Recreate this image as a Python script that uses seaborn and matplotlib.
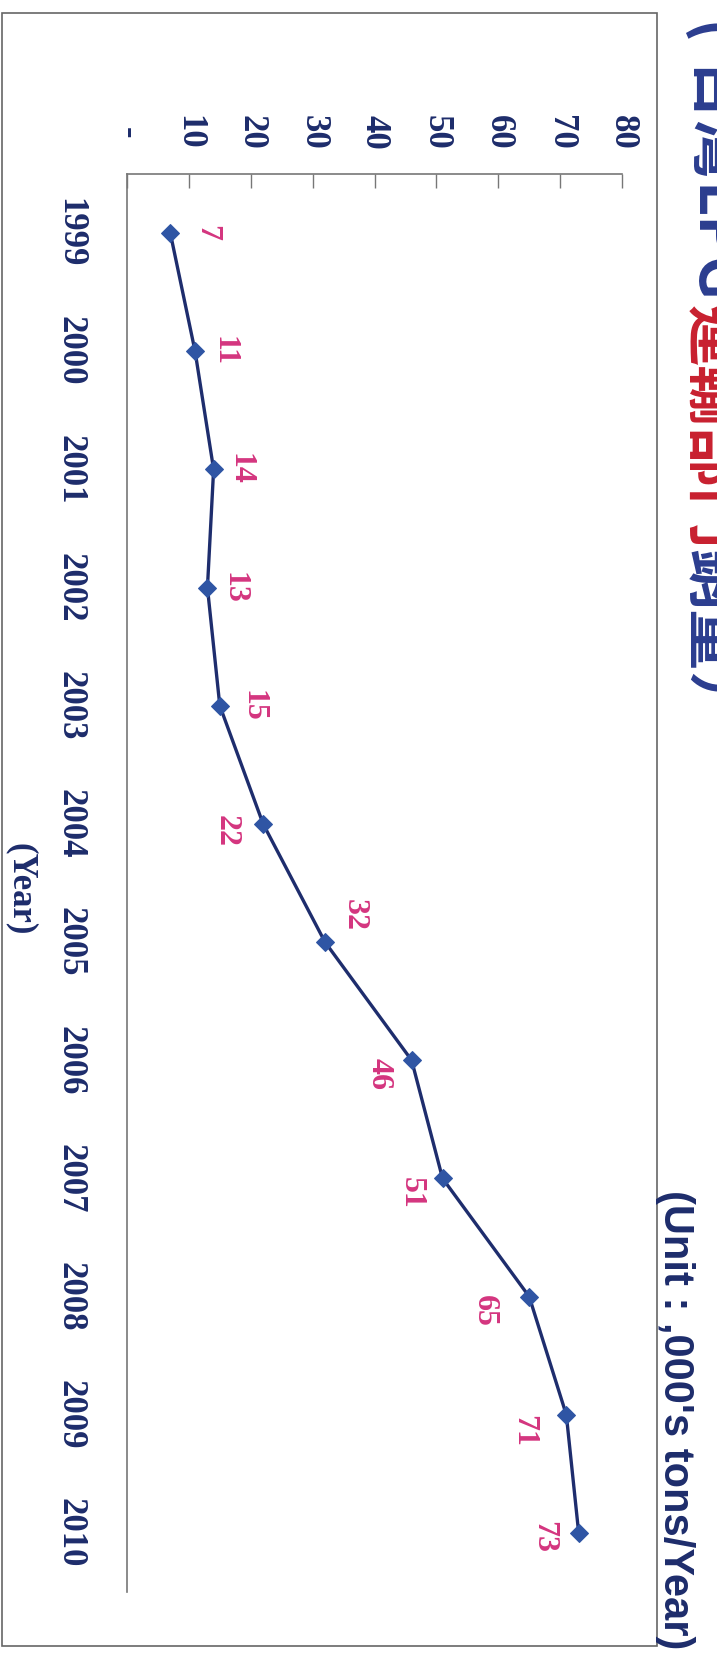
import pandas as pd
import numpy as np
import matplotlib.pyplot as plt
import matplotlib.patches as mpatches
import seaborn as sns

years = [1999, 2000, 2001, 2002, 2003, 2004, 2005, 2006, 2007, 2008, 2009, 2010]
volume = [7, 11, 14, 13, 15, 22, 32, 46, 51, 65, 71, 73]
value_ticks = [0, 10, 20, 30, 40, 50, 60, 70, 80]
value_ticklabels = ['-', '10', '20', '30', '40', '50', '60', '70', '80']
title_parts = ['台灣', 'LPG', '運輸部門', '銷量', '）']
title_colors = ['b', 'b', 'r', 'b', 'b']
unit_text = "(Unit : ,000's tons/Year)"
year_text = '(Year)'

# label offsets in image pixels (right, down) -- hand placed like the original
label_offsets = [(36, 0), (29, 0), (26, 0), (27, 0), (33, 0), (-37, 7),
                 (29, -27), (-33, 14), (-31, 14), (-45, 14), (-43, 16), (-35, 4)]

sns.set_style('white')
plt.rcParams['font.family'] = ['Liberation Serif', 'DejaVu Sans']

navy = '#1d2c6b'
line_col = '#1e2d6d'
marker_col = '#2f55a4'
pink = '#d4357f'
title_blue = '#2b3d8f'
title_red = '#c8202f'
cjk = ['Noto Sans CJK TC', 'DejaVu Sans']

df = pd.DataFrame({'year': years, 'volume': volume})

fig = plt.figure(figsize=(7.17, 16.53), dpi=100)
ax = fig.add_axes([127 / 717, 1 - 1592 / 1653, (622 - 127) / 717, (1592 - 174) / 1653])

sns.lineplot(data=df, x='volume', y='year', orient='y', sort=False, ax=ax,
             color=line_col, linewidth=2.4, marker='D', markersize=9,
             markerfacecolor=marker_col, markeredgecolor=marker_col, legend=False)

ax.set_xlim(0, 80)
ax.set_ylim(2010.5, 1998.5)

ax.xaxis.tick_top()
ax.set_xticks(value_ticks)
ax.set_xticklabels(value_ticklabels, rotation=-90, fontsize=25, fontweight='bold', color=navy)
ax.tick_params(axis='x', direction='in', length=10, width=1, color='#777777', pad=30)
plt.setp(ax.xaxis.get_majorticklabels(), va='center')

ax.set_yticks(np.arange(1998.5, 2011, 1.0))
ax.set_yticklabels([])
ax.set_yticks(years, minor=True)
ax.set_yticklabels([str(y) for y in years], minor=True, rotation=-90,
                   fontsize=25, fontweight='bold', color=navy)
ax.tick_params(axis='y', which='major', direction='in', length=10, width=1, color='#777777')
ax.tick_params(axis='y', which='minor', length=0, pad=29)
plt.setp(ax.yaxis.get_minorticklabels(), va='center')

for s in ['right', 'bottom']:
    ax.spines[s].set_visible(False)
for s in ['top', 'left']:
    ax.spines[s].set_color('#777777')
    ax.spines[s].set_linewidth(1.2)

ax.set_xlabel('')
ax.set_ylabel('')

for yr, v, (dx, dy) in zip(years, volume, label_offsets):
    ax.annotate(str(v), (v, yr), xytext=(dx, -dy), textcoords='offset pixels',
                rotation=-90, ha='center', va='center', fontsize=23,
                fontweight='bold', color=pink)

fig.text(21 / 717, 1 - 889 / 1653, year_text, rotation=-90, ha='center', va='center',
         fontsize=25, fontweight='bold', color=navy)

# unit note, baseline running down just right of the frame
fig.text(664 / 717, 1 - 1190 / 1653, unit_text, rotation=-90, rotation_mode='anchor',
         ha='left', va='baseline', fontsize=30, fontweight='bold', color=navy,
         family=['Liberation Sans', 'DejaVu Sans'])

# outer frame of the chart
fig.patches.append(mpatches.Rectangle((0.003, 0.004), 657 / 717 - 0.003, 0.988,
                                      transform=fig.transFigure, fill=False,
                                      edgecolor='#666666', linewidth=1.2))

# title in two colours, placed piece by piece down the right edge (partly off the page)
title_x = 693 / 717
fig.text(title_x, 1 - 22 / 1653, '(', rotation=-90, rotation_mode='anchor',
         ha='left', va='baseline', fontsize=46, fontweight='bold', color=title_blue,
         family=cjk)
renderer = fig.canvas.get_renderer()
ty = 1 - 63 / 1653
for part, c in zip(title_parts, title_colors):
    col = title_red if c == 'r' else title_blue
    t = fig.text(title_x, ty, part, rotation=-90, rotation_mode='anchor',
                 ha='left', va='baseline', fontsize=44, fontweight='bold', color=col,
                 family=cjk)
    bb = t.get_window_extent(renderer)
    ty = fig.transFigure.inverted().transform((0, bb.y0))[1]

fig.savefig('out.png', dpi=100)
